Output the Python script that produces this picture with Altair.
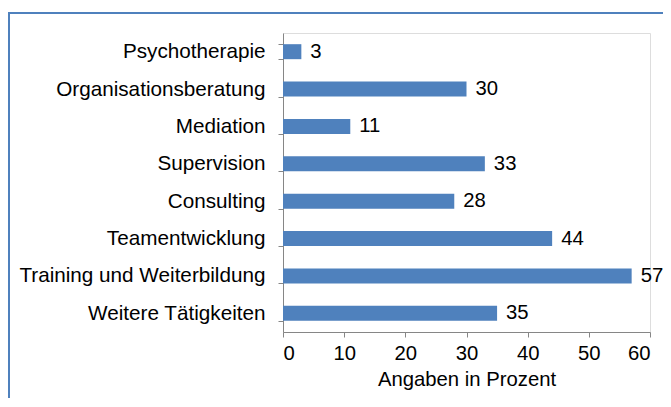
import altair as alt
import pandas as pd

categories = [
    "Psychotherapie",
    "Organisationsberatung",
    "Mediation",
    "Supervision",
    "Consulting",
    "Teamentwicklung",
    "Training und Weiterbildung",
    "Weitere Tätigkeiten",
]
values = [3, 30, 11, 33, 28, 44, 57, 35]
x_ticks = [0, 10, 20, 30, 40, 50, 60]

df = pd.DataFrame({"cat": categories, "val": values})

FONT = "Liberation Sans"
BLUE = "#4F81BD"
GREY = "#868686"
FS_Y = 20.7
FS = 20.3

y_enc = alt.Y(
    "cat:N",
    sort=categories,
    title=None,
    axis=alt.Axis(
        tickBand="extent",
        tickSize=5,
        tickColor=GREY,
        domainColor=GREY,
        labelPadding=13,
        labelFontSize=FS_Y,
        labelFont=FONT,
        labelColor="#000000",
        labelLimit=400,
        grid=False,
    ),
    scale=alt.Scale(paddingInner=0.6, paddingOuter=0.3),
)

x_enc = alt.X(
    "val:Q",
    title="Angaben in Prozent",
    scale=alt.Scale(domain=[0, 60], nice=False),
    axis=alt.Axis(
        values=x_ticks,
        tickSize=5,
        tickColor=GREY,
        domainColor=GREY,
        labelPadding=6,
        labelFontSize=FS,
        labelFont=FONT,
        labelColor="#000000",
        titleFontSize=FS,
        titleFont=FONT,
        titleFontWeight="normal",
        titleColor="#000000",
        titlePadding=6,
        grid=False,
    ),
)

base = alt.Chart(df)

bars = base.mark_bar(color=BLUE, size=15).encode(x=x_enc, y=y_enc)
labels = base.mark_text(
    align="left", baseline="middle", dx=9, fontSize=FS, font=FONT, color="#000000"
).encode(x="val:Q", y=alt.Y("cat:N", sort=categories), text="val:Q")

border = base.mark_rect(
    fill=None, fillOpacity=0, stroke=BLUE, strokeWidth=2
).encode(
    x=alt.value(-274), x2=alt.value(420), y=alt.value(-20), y2=alt.value(420)
).transform_filter("datum.cat == 'Psychotherapie'")

chart = (
    alt.layer(border, bars, labels)
    .properties(
        width=367,
        height=299,
        autosize=alt.AutoSizeParams(type="none"),
        padding={"left": 275, "top": 25, "right": 13, "bottom": 66},
    )
    .configure_view(stroke=None)
    .configure(background="white")
)

chart.save("out.html", embed_options={"renderer": "svg", "actions": False})
